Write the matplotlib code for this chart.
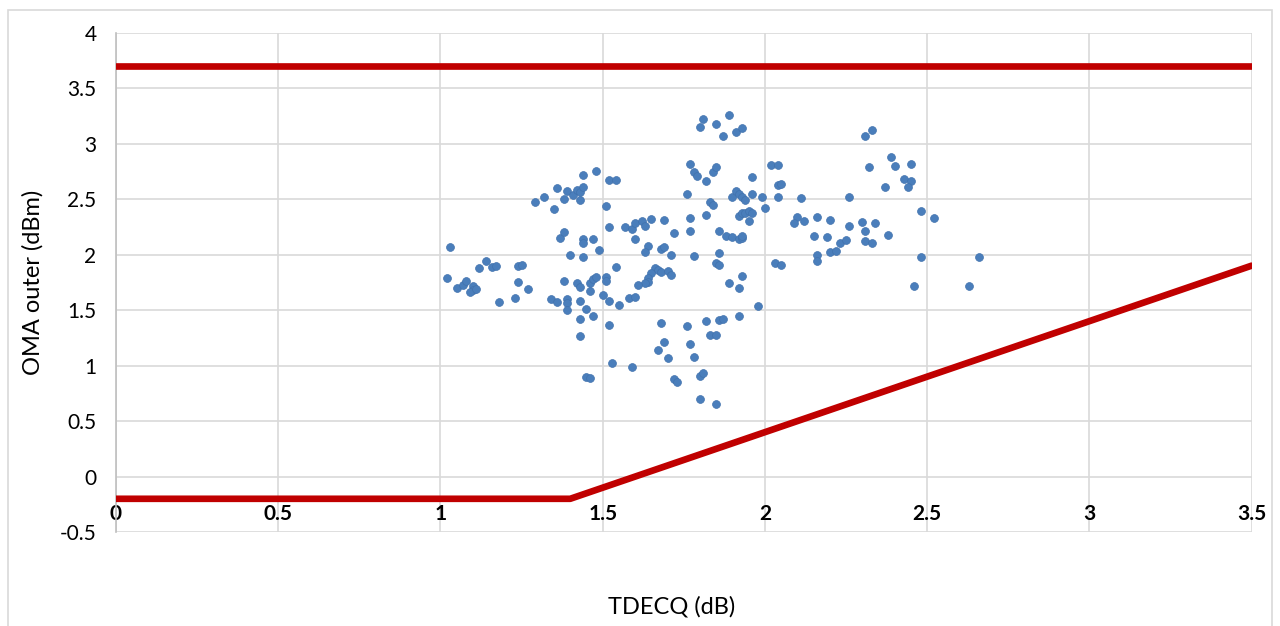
import matplotlib
matplotlib.use("Agg")
import matplotlib.pyplot as plt
from matplotlib.patches import Rectangle

# measured TDECQ (dB) / OMA outer (dBm) pairs
tdecq = [
    1.03, 1.02, 1.05, 1.07, 1.08, 1.10, 1.10, 1.09, 1.11, 1.14, 1.12, 1.16, 1.17, 1.18,
    1.23, 1.24, 1.25, 1.24, 1.27, 1.29, 1.32, 1.34, 1.35, 1.36, 1.36, 1.37, 1.38, 1.38,
    1.38, 1.39, 1.39, 1.39, 1.39, 1.40, 1.41, 1.42, 1.43, 1.44, 1.44, 1.43, 1.42, 1.43,
    1.43, 1.43, 1.43, 1.44, 1.44, 1.44, 1.45, 1.45, 1.46, 1.46, 1.46, 1.47, 1.47, 1.47,
    1.48, 1.48, 1.49, 1.50, 1.51, 1.52, 1.51, 1.51, 1.52, 1.52, 1.52, 1.54, 1.53,
    1.54, 1.55, 1.58, 1.60, 1.57, 1.59, 1.60, 1.62, 1.63, 1.65, 1.69, 1.72, 1.60, 1.64,
    1.63, 1.68, 1.69, 1.71, 1.66, 1.67, 1.68, 1.70, 1.71, 1.65, 1.64, 1.64, 1.63, 1.61,
    1.59, 1.68, 1.69, 1.67, 1.70, 1.72, 1.73, 1.77, 1.78, 1.79, 1.82, 1.84, 1.85, 1.76,
    1.77, 1.77, 1.78, 1.76, 1.77, 1.78, 1.80, 1.81, 1.80, 1.85, 1.81, 1.80, 1.85, 1.89,
    1.87, 1.91, 1.93, 1.83, 1.84, 1.82, 1.82, 1.86, 1.87, 1.83, 1.85, 1.86, 1.88, 1.90,
    1.92, 1.93, 1.93, 1.86, 1.85, 1.86, 1.90, 1.91, 1.92, 1.93, 1.94, 1.96, 1.96, 1.99,
    1.92, 1.93, 1.94, 1.95, 1.96, 1.95, 1.93, 1.89, 1.92, 1.92, 1.98, 2.00,
    2.02, 2.04, 2.04, 2.05, 2.04, 2.03, 2.05, 2.31, 2.33, 2.32, 2.39, 2.40, 2.45, 2.43,
    2.45, 2.44, 2.37, 2.11, 2.26, 2.10, 2.09, 2.12, 2.16, 2.20, 2.26, 2.30, 2.34, 2.31,
    2.38, 2.48, 2.52, 2.15, 2.19, 2.23, 2.25, 2.31, 2.33, 2.16, 2.16, 2.20, 2.22, 2.48,
    2.46, 2.66, 2.63,
]
oma_outer = [
    2.07, 1.79, 1.70, 1.73, 1.76, 1.72, 1.68, 1.66, 1.69, 1.94, 1.88, 1.89, 1.90, 1.57,
    1.61, 1.90, 1.91, 1.75, 1.69, 2.47, 2.52, 1.60, 2.41, 2.60, 1.57, 2.15, 2.20, 2.50,
    1.76, 2.57, 1.60, 1.56, 1.50, 2.00, 2.54, 2.58, 2.56, 2.61, 2.72, 2.49, 1.74, 1.71,
    1.58, 1.42, 1.27, 2.14, 2.10, 1.98, 1.51, 0.90, 0.89, 1.74, 1.67, 1.78, 2.14, 1.45,
    2.75, 1.80, 2.04, 1.64, 2.44, 2.25, 1.80, 1.76, 1.58, 1.37, 2.67, 2.67, 1.02,
    1.89, 1.55, 1.61, 1.62, 2.25, 2.23, 2.28, 2.30, 2.26, 2.32, 2.31, 2.19, 2.14, 2.08,
    2.02, 2.05, 2.07, 2.00, 1.88, 1.86, 1.84, 1.85, 1.82, 1.83, 1.79, 1.75, 1.74, 1.73,
    0.99, 1.38, 1.21, 1.14, 1.07, 0.88, 0.85, 2.82, 2.74, 2.71, 2.66, 2.74, 2.79, 2.55,
    2.33, 2.21, 1.99, 1.36, 1.19, 1.08, 0.91, 0.93, 0.70, 0.65, 3.22, 3.15, 3.18, 3.26,
    3.07, 3.10, 3.14, 2.47, 2.45, 2.36, 1.40, 1.41, 1.42, 1.28, 1.28, 2.21, 2.17, 2.16,
    2.14, 2.15, 2.17, 2.01, 1.92, 1.91, 2.52, 2.57, 2.55, 2.52, 2.49, 2.55, 2.70, 2.52,
    2.35, 2.37, 2.37, 2.39, 2.37, 2.30, 1.81, 1.74, 1.70, 1.45, 1.54, 2.42,
    2.81, 2.81, 2.63, 2.64, 2.52, 1.92, 1.91, 3.07, 3.12, 2.79, 2.88, 2.80, 2.82, 2.68,
    2.66, 2.61, 2.61, 2.51, 2.52, 2.34, 2.28, 2.30, 2.34, 2.31, 2.26, 2.29, 2.28, 2.21,
    2.18, 2.39, 2.33, 2.17, 2.16, 2.10, 2.13, 2.12, 2.10, 2.00, 1.94, 2.02, 2.03, 1.98,
    1.72, 1.98, 1.72,
]

# limit lines
upper_x = [0, 3.5]
upper_y = [3.7, 3.7]
lower_x = [0, 1.4, 3.5]
lower_y = [-0.2, -0.2, 1.9]

xticks = [0, 0.5, 1, 1.5, 2, 2.5, 3, 3.5]
xtick_labels = ["0", "0.5", "1", "1.5", "2", "2.5", "3", "3.5"]
yticks = [-0.5, 0, 0.5, 1, 1.5, 2, 2.5, 3, 3.5, 4]
ytick_labels = ["-0.5", "0", "0.5", "1", "1.5", "2", "2.5", "3", "3.5", "4"]

plt.rcParams['font.family'] = ['Lato', 'DejaVu Sans']

fig = plt.figure(figsize=(12.8, 6.26), dpi=100)
ax = fig.add_axes([0.0906, 0.150, 0.8872, 0.798])

# chart frame like excel
fig.patches.append(Rectangle((8 / 1280, -0.05), 1264 / 1280, 1.05 - 10 / 626,
                             transform=fig.transFigure, fill=False,
                             edgecolor='#D9D9D9', linewidth=1.2))

ax.scatter(tdecq, oma_outer, s=32, color='#4A7EBB', edgecolors='#4172AD',
           linewidths=0.5, zorder=3)
ax.plot(upper_x, upper_y, color='#C00000', linewidth=4.8, solid_capstyle='round', zorder=4)
ax.plot(lower_x, lower_y, color='#C00000', linewidth=4.8, solid_capstyle='round',
        solid_joinstyle='round', zorder=4)

# excel puts the horizontal axis at -0.2
ax.spines['bottom'].set_position(('data', -0.2))
ax.spines['bottom'].set_visible(False)
ax.spines['top'].set_visible(False)
ax.spines['right'].set_visible(False)
ax.spines['left'].set_color('#BFBFBF')
ax.spines['left'].set_linewidth(1.2)

ax.set_xlim(0, 3.5)
ax.set_ylim(-0.5, 4)
ax.set_xticks(xticks)
ax.set_xticklabels(xtick_labels, fontsize=15, fontweight='bold')
ax.set_yticks(yticks)
ax.set_yticklabels(ytick_labels, fontsize=15)
ax.tick_params(axis='both', length=0, colors='black')
ax.tick_params(axis='x', pad=4)
ax.tick_params(axis='y', pad=14)

ax.grid(True, color='#D9D9D9', linewidth=1.2, zorder=0)
ax.set_axisbelow(True)

fig.text(33 / 1280, 1 - 282 / 626, "OMA outer (dBm)", fontsize=17, rotation=90,
         ha='center', va='center')
fig.text(672 / 1280, 1 - 607 / 626, "TDECQ (dB)", fontsize=17, ha='center', va='center')

fig.savefig("out.png", dpi=100)
